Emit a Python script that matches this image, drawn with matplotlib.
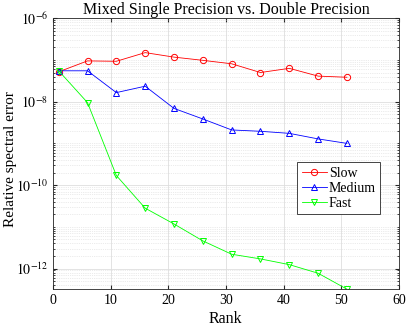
import matplotlib
matplotlib.use("Agg")
import matplotlib.pyplot as plt
import matplotlib.ticker as ticker
import numpy as np

rank = [1, 6, 11, 16, 21, 26, 31, 36, 41, 46, 51]
slow = [5.2e-8, 9.5e-8, 9.3e-8, 1.5e-7, 1.17e-7, 9.8e-8, 8.1e-8, 5.0e-8, 6.3e-8, 4.1e-8, 3.85e-8]
medium = [5.5e-8, 5.5e-8, 1.65e-8, 2.35e-8, 6.9e-9, 3.85e-9, 2.1e-9, 1.95e-9, 1.74e-9, 1.28e-9, 1.0e-9]
fast = [5.5e-8, 9.5e-9, 1.7e-10, 2.8e-11, 1.17e-11, 4.6e-12, 2.2e-12, 1.7e-12, 1.24e-12, 7.7e-13, 3.2e-13]

plt.rcParams['font.family'] = ['Liberation Serif', 'DejaVu Serif']
plt.rcParams['mathtext.fontset'] = 'stix'

fig = plt.figure(figsize=(4.07, 3.26), dpi=100)
ax = fig.add_axes([0.130, 0.113, 0.850, 0.831])

ax.plot(rank, slow, '-o', color='r', lw=0.6, ms=4.5, mfc='none', mew=0.7, label='Slow')
ax.plot(rank, medium, '-^', color='b', lw=0.6, ms=4.5, mfc='none', mew=0.7, label='Medium')
ax.plot(rank, fast, '-v', color='#00ff00', lw=0.6, ms=4.5, mfc='none', mew=0.7, label='Fast')

ax.set_yscale('log')
ax.set_xlim(0, 60)
ax.set_ylim(min(fast), 1e-6)
ax.yaxis.set_major_locator(ticker.FixedLocator([1e-12, 1e-10, 1e-8, 1e-6]))
ax.yaxis.set_major_formatter(ticker.FuncFormatter(lambda v, p: r'$10^{%d}$' % int(round(np.log10(v)))))
ax.yaxis.set_minor_locator(ticker.LogLocator(base=10, subs=np.arange(1, 10), numticks=50))
ax.yaxis.set_minor_formatter(ticker.NullFormatter())
ax.set_xticks(range(0, 61, 10))

ax.grid(True, which='major', color='#dedede', lw=0.6)
ax.grid(True, which='minor', color='#d8d8d8', lw=0.5, ls=':')
ax.set_axisbelow(True)
ax.tick_params(which='both', direction='in', top=True, right=True, labelsize=10, color='#262626')
ax.tick_params(which='major', length=3)
ax.tick_params(which='minor', length=1.5)
for s in ax.spines.values():
    s.set_color('#262626')
    s.set_linewidth(0.6)

ax.set_title('Mixed Single Precision vs. Double Precision', fontsize=11.5, pad=3)
ax.set_xlabel('Rank', fontsize=11.5, labelpad=3)
ax.set_ylabel('Relative spectral error', fontsize=11)
ax.yaxis.set_label_coords(-0.103, 0.48)

leg = ax.legend(loc='upper right', bbox_to_anchor=(0.945, 0.468), fontsize=10,
                fancybox=False, framealpha=1, edgecolor='#262626',
                handlelength=1.8, handletextpad=0.15, borderpad=0.3, labelspacing=0.15,
                borderaxespad=0)
leg.get_frame().set_linewidth(0.6)

fig.savefig('out.png', dpi=100)
